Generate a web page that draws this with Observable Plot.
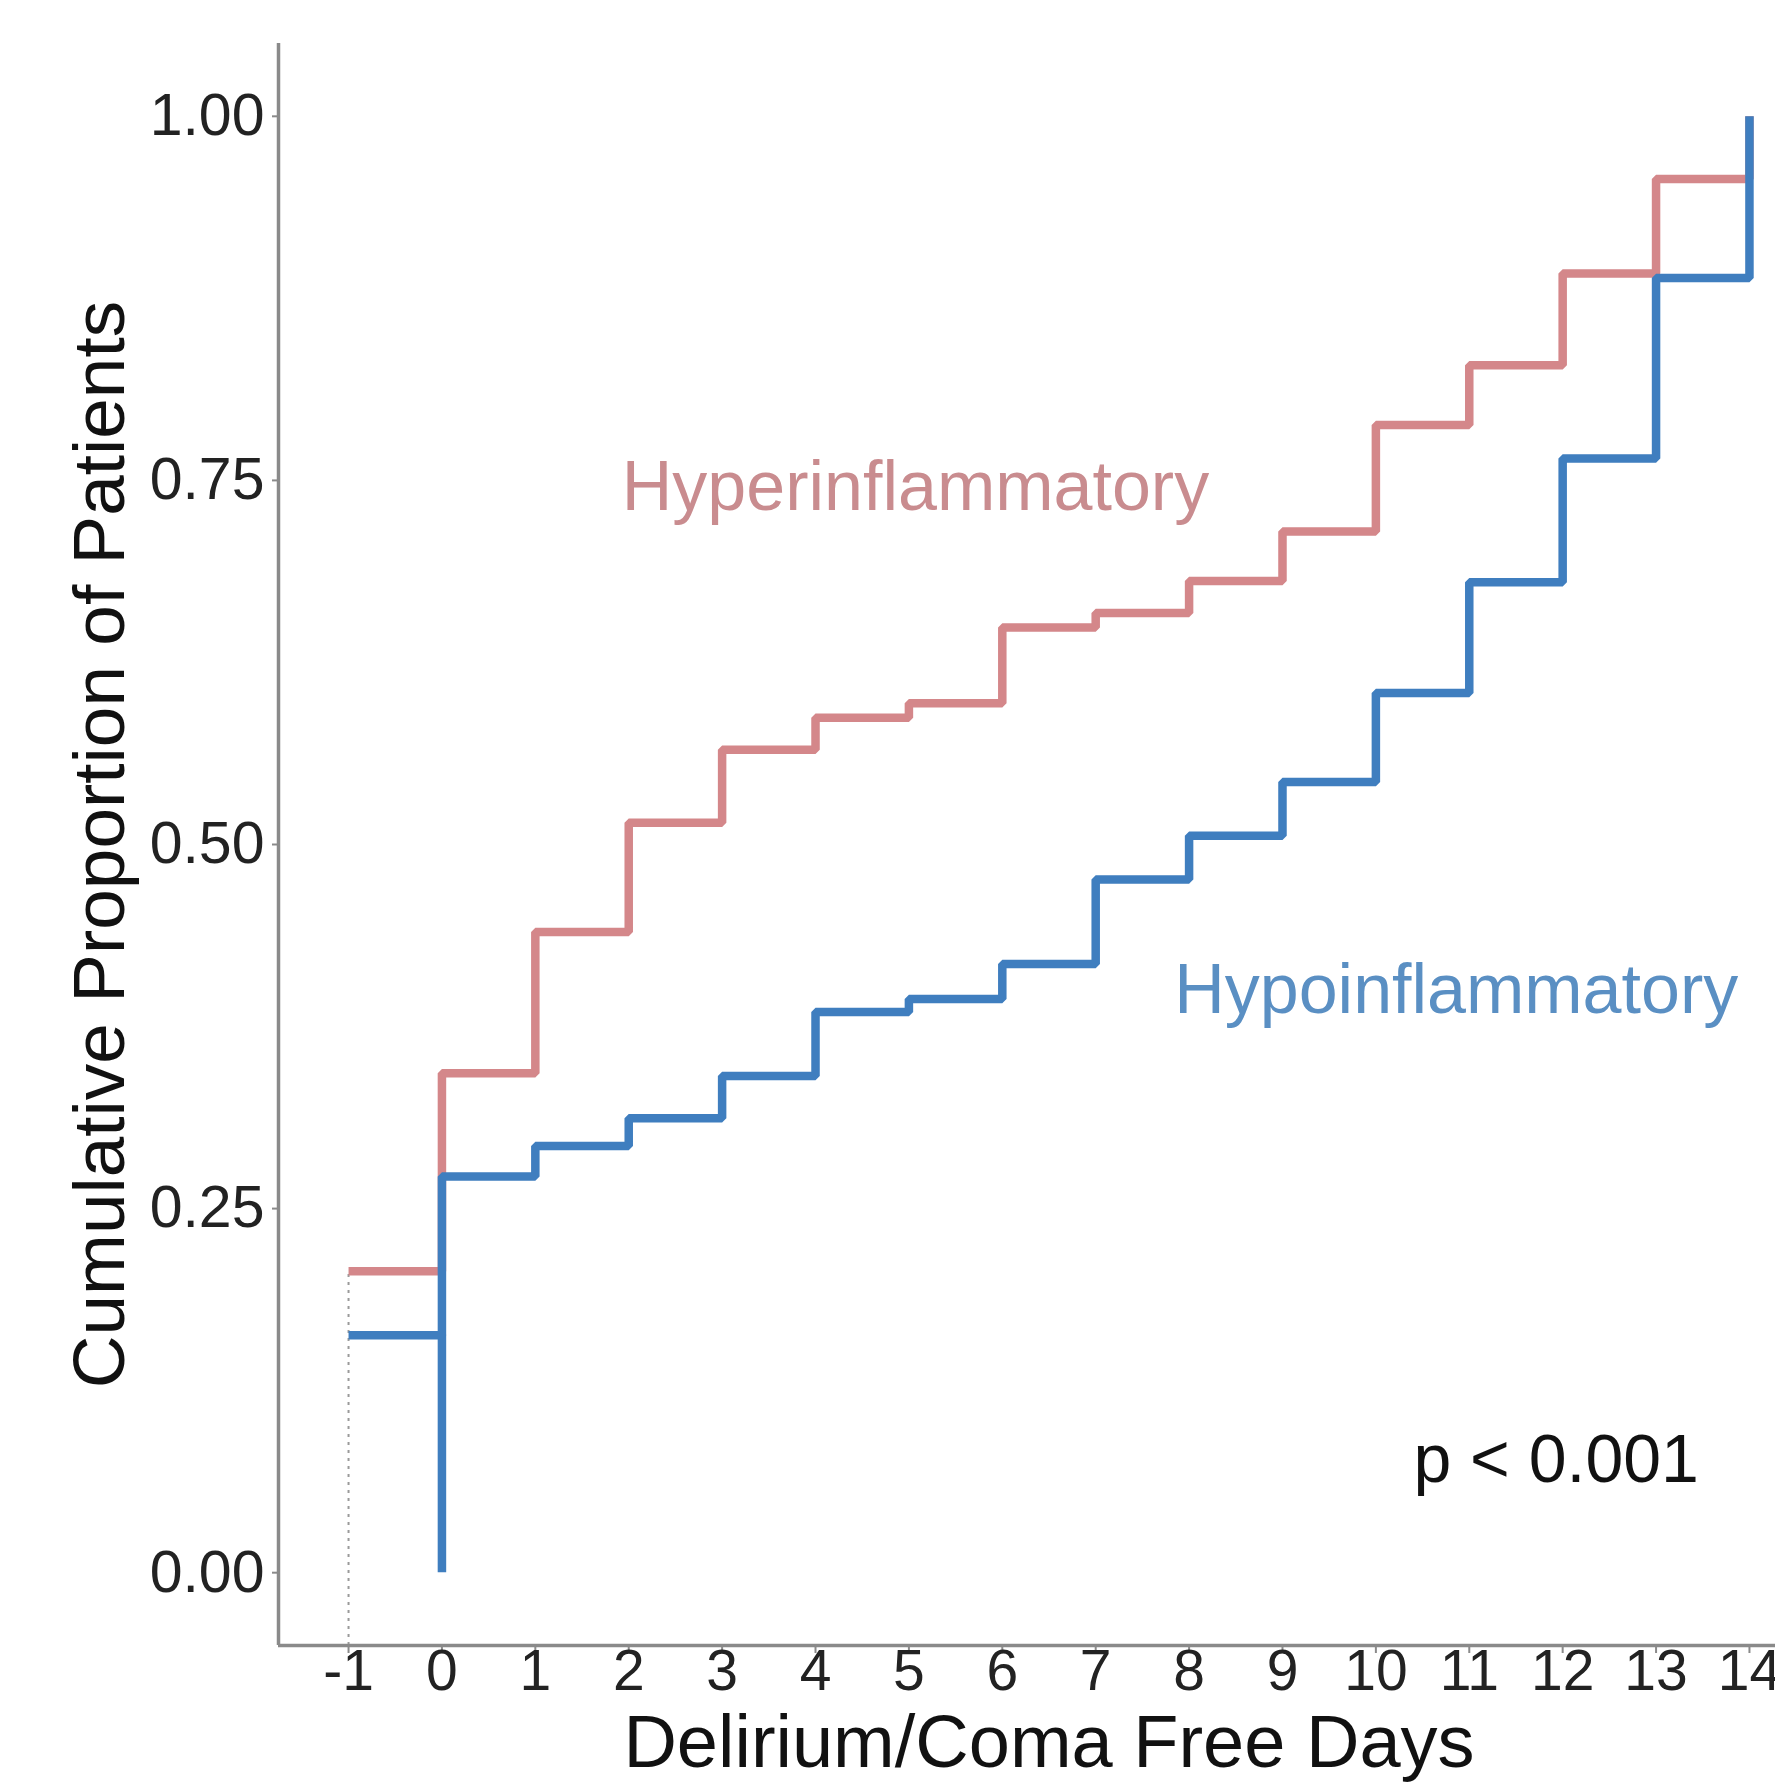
<!DOCTYPE html>
<html>
<head>
<meta charset="utf-8">
<script src="https://cdn.jsdelivr.net/npm/d3@7"></script>
<script src="https://cdn.jsdelivr.net/npm/@observablehq/plot@0.6"></script>
<style>
html, body { margin: 0; padding: 0; background: #ffffff; overflow: hidden; }
#chart svg { display: block; max-width: none !important; }
</style>
</head>
<body>
<div id="chart"></div>
<script>
// ---- data ----
const days = [-1, 0, 1, 2, 3, 4, 5, 6, 7, 8, 9, 10, 11, 12, 13, 14];
const hyperCum = [0.207, 0.343, 0.440, 0.515, 0.565, 0.587, 0.597, 0.649, 0.659, 0.681, 0.715, 0.788, 0.829, 0.892, 0.957, 1.000];
const hypoCum  = [0.163, 0.272, 0.293, 0.312, 0.341, 0.385, 0.394, 0.418, 0.476, 0.506, 0.543, 0.604, 0.680, 0.765, 0.889, 1.000];
const hypoStartDay = 0;
const hypoStartValue = 0;

const groupNames = ["Hyperinflammatory", "Hypoinflammatory"];
const groupColors = ["#d4878a", "#3f7ebf"];
const groupTextColors = ["#c98c8f", "#5a8fc3"];
const groupLabelX = [5.07, 10.86];
const groupLabelY = [0.745, 0.400];

const pText = "p < 0.001";
const pX = 11.93;
const pY = 0.077;

const xTicks = days;
const yTicks = [0, 0.25, 0.5, 0.75, 1];
const yTickLabels = ["0.00", "0.25", "0.50", "0.75", "1.00"];
const xTitle = "Delirium/Coma Free Days";
const yTitle = "Cumulative Proportion of Patients";

const xDomain = [-1.75, 14.75];
const yDomain = [-0.05, 1.05];

// ---- build tables ----
const hyperRows = days.map((d, i) => ({day: d, value: hyperCum[i]}));
const hypoRows = days.map((d, i) => ({day: d, value: hypoCum[i]}));
const labelRows = groupNames.map((g, i) => ({name: g, x: groupLabelX[i], y: groupLabelY[i], color: groupTextColors[i]}));

const axisGray = "#8a8a8a";
const font = "'Liberation Sans', Arial, Helvetica, sans-serif";

const chart = Plot.plot({
  width: 1819,
  height: 1786,
  marginLeft: 278,
  marginRight: 0,
  marginTop: 43,
  marginBottom: 141,
  style: {fontFamily: font, background: "#ffffff", color: "#262626"},
  x: {domain: xDomain},
  y: {domain: yDomain},
  marks: [
    // dotted guide at first day
    Plot.ruleX([days[0]], {y1: yDomain[0], y2: hyperCum[0], stroke: "#9a9a9a", strokeWidth: 2, strokeDasharray: "3,5"}),
    // step curves
    Plot.line(hyperRows, {x: "day", y: "value", curve: "step-after", stroke: groupColors[0], strokeWidth: 8.5, strokeLinejoin: "miter", strokeLinecap: "butt"}),
    Plot.ruleX([hypoStartDay], {y1: hypoStartValue, y2: hypoCum[0], stroke: groupColors[1], strokeWidth: 8.5}),
    Plot.line(hypoRows, {x: "day", y: "value", curve: "step-after", stroke: groupColors[1], strokeWidth: 8.5, strokeLinejoin: "miter", strokeLinecap: "butt"}),
    // axis lines
    Plot.ruleX([xDomain[0]], {stroke: axisGray, strokeWidth: 3.5}),
    Plot.ruleY([yDomain[0]], {stroke: axisGray, strokeWidth: 3.5}),
    // axes
    Plot.axisX({ticks: xTicks, tickFormat: d => String(d), tickSize: 8, tickPadding: -4, fontSize: 57, stroke: axisGray, strokeWidth: 2, fill: "#222222", label: null}),
    Plot.axisY({ticks: yTicks, tickFormat: d => yTickLabels[yTicks.indexOf(d)], tickSize: 6, tickPadding: 8, fontSize: 59, stroke: axisGray, strokeWidth: 2, fill: "#222222", label: null}),
    // axis titles
    Plot.text([xTitle], {frameAnchor: "bottom", text: d => d, dy: 98, fontSize: 74, fill: "#111111", textAnchor: "middle", lineAnchor: "middle"}),
    Plot.text([yTitle], {frameAnchor: "left", text: d => d, rotate: -90, dx: -178, fontSize: 73, fill: "#111111", textAnchor: "middle", lineAnchor: "middle"}),
    // group labels
    Plot.text(labelRows, {x: "x", y: "y", text: "name", fill: "color", fontSize: 70, textAnchor: "middle", lineAnchor: "middle"}),
    // p-value
    Plot.text([pText], {x: () => pX, y: () => pY, text: d => d, fontSize: 68, fill: "#111111", textAnchor: "middle", lineAnchor: "middle"})
  ]
});

document.getElementById("chart").appendChild(chart);
</script>
</body>
</html>
